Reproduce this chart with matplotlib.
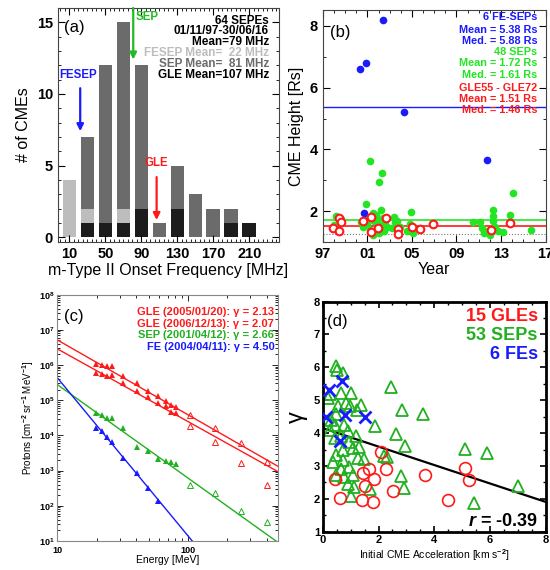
import numpy as np
import matplotlib
matplotlib.use('Agg')
import matplotlib.pyplot as plt
from matplotlib.ticker import MultipleLocator, LogLocator, NullFormatter

plt.rcParams['font.family'] = ['Liberation Sans', 'DejaVu Sans']
plt.rcParams['font.weight'] = 'bold'
plt.rcParams['mathtext.fontset'] = 'custom'
plt.rcParams['mathtext.rm'] = 'Liberation Sans:bold'
plt.rcParams['mathtext.bf'] = 'Liberation Sans:bold'
plt.rcParams['mathtext.it'] = 'Liberation Sans:bold:italic'
plt.rcParams['xtick.direction'] = 'in'
plt.rcParams['ytick.direction'] = 'in'
plt.rcParams['xtick.top'] = True
plt.rcParams['ytick.right'] = True

RED = '#ff1a1a'
BLUE = '#1a1aff'
GREEN_B = '#22e622'
GREEN = '#22b022'

# (a) histogram of m-type II onset frequency
freq_bins = np.array([10, 30, 50, 70, 90, 110, 130, 150, 170, 190, 210, 230])
gle_counts = np.array([0, 1, 1, 1, 2, 0, 2, 0, 0, 1, 1, 0])
fesep_counts = np.array([4, 1, 0, 1, 0, 0, 0, 0, 0, 0, 0, 0])
sep_counts = np.array([0, 5, 11, 13, 10, 1, 3, 3, 2, 1, 0, 0])
mean_fesep, mean_sep, mean_gle = 22, 81, 107

# (b) CME height vs year
fe_year = [2000.3, 2000.9, 2002.4, 2004.3, 2011.7, 2000.7]
fe_height = [6.6, 6.8, 8.2, 5.2, 3.65, 1.95]
sep_year = [2001.2, 2002.3, 2002.0, 2014.1, 2000.9, 2004.9,
            1998.2, 1998.0, 1998.6,
            2000.6, 2000.8, 2001.0, 2001.2, 2001.5, 2001.6, 2001.8, 2001.5,
            2002.2, 2002.1, 2002.4, 2002.6, 2002.0, 2002.8,
            2003.4, 2003.5, 2003.2, 2003.9, 2003.7,
            2004.6, 2004.8, 2005.1,
            2010.5, 2011.1, 2011.3, 2011.5, 2011.8, 2012.3, 2012.3, 2012.3,
            2012.5, 2013.2, 2013.8, 2012.0, 2015.7,
            2000.4, 2001.9, 2002.5, 2012.7]
sep_height = [3.62, 3.25, 2.95, 2.59, 2.23, 1.98,
              1.85, 1.55, 1.75,
              1.50, 1.75, 1.60, 1.40, 1.23, 1.70, 1.87, 1.95,
              2.03, 1.55, 1.80, 1.60, 1.30, 1.50,
              1.82, 1.65, 1.45, 1.50, 1.70,
              1.37, 1.60, 1.30,
              1.65, 1.65, 1.45, 1.30, 1.35, 2.03, 1.85, 1.70,
              1.50, 1.33, 1.87, 1.25, 1.39,
              1.65, 1.75, 1.35, 1.35]
gle_year = [1997.9, 1998.45, 1998.66, 1998.45, 2000.58, 2001.33, 2001.33, 2001.92,
            2002.66, 2003.78, 2003.78, 2004.97, 2005.68, 2006.87, 2012.14, 2013.77]
gle_height = [1.47, 1.80, 1.65, 1.36, 1.69, 1.82, 1.33, 1.47,
              1.80, 1.44, 1.28, 1.49, 1.42, 1.58, 1.39, 1.62]
mean_h_fe, mean_h_sep, mean_h_gle = 5.38, 1.72, 1.51
h_limit = 1.26

# (c) proton spectra
e_fit = [19.7, 21.9, 24.2, 26.4, 31.9, 41.1, 49.6, 58.9, 67.5, 74.5, 80.4]
e_open = [104, 162, 254, 404]
gle1_fit = [1.07e6, 1.02e6, 9.1e5, 9.5e5, 4.9e5, 3.0e5, 1.8e5, 1.3e5, 9.8e4, 7.4e4, 6.6e4]
gle1_open = [3.8e4, 1.6e4, 6.2e3, 1.8e3]
gle2_fit = [5.9e5, 5.5e5, 4.9e5, 5.1e5, 3.0e5, 1.8e5, 1.26e5, 8.1e4, 6.9e4, 4.5e4, 4.3e4]
gle2_open = [1.8e4, 6.6e3, 1.6e3, 3.9e2]
sepc_fit = [4.3e4, 3.8e4, 3.1e4, 3.1e4, 1.6e4, 4.6e3, 3.5e3, 2.2e3, 1.9e3, 1.7e3, 1.55e3]
sepc_open = [3.9e2, 2.3e2, 72, 35]
fec_fit = [1.6e4, 1.3e4, 9.1e3, 6.6e3, 2.3e3, 8.3e2, 3.1e2, 1.4e2]
fit_norm10 = [5.2e6, 2.9e6, 2.8e5, 4.4e5]   # flux at 10 MeV
fit_gamma = [2.13, 2.07, 2.66, 4.50]

# (d) gamma vs acceleration
gle_acc = [2.08, 2.26, 1.67, 1.43, 1.85, 1.51, 0.45, 0.61, 1.40, 1.79, 2.53, 3.67, 4.50, 5.12, 5.24]
gle_gam = [3.44, 2.91, 2.92, 2.78, 2.60, 2.40, 2.60, 2.02, 1.96, 1.90, 2.23, 2.74, 1.97, 2.95, 2.56]
fe_acc = [0.21, 0.69, 0.12, 0.81, 1.52, 0.63]
fe_gam = [5.31, 5.59, 4.49, 4.54, 4.49, 3.77]
sep_acc = [0.48, 0.50, 0.71, 0.24, 0.18, 0.65, 1.01, 0.98, 1.37, 1.21,
           0.83, 0.54, 0.48, 0.30, 0.42, 0.24, 0.77, 0.89, 0.65, 0.42,
           0.95, 1.19, 1.07, 0.71, 0.48, 0.36, 0.71, 1.25, 1.49, 1.31,
           0.95, 0.65, 0.48, 0.77, 1.07, 0.89, 1.13, 1.01, 1.69, 2.20,
           1.88, 2.44, 2.86, 3.60, 2.62, 2.95, 5.12, 5.89, 2.80, 2.92,
           5.42, 7.00, 2.32]
sep_gam = [6.05, 5.92, 5.82, 5.18, 5.08, 5.23, 5.23, 4.82, 4.85, 4.69,
           4.92, 4.82, 4.58, 4.41, 4.26, 4.10, 4.26, 4.05, 3.90, 3.85,
           3.74, 3.90, 3.54, 3.49, 3.33, 3.13, 3.18, 3.23, 3.21, 3.59,
           2.97, 2.92, 2.72, 2.67, 2.74, 2.46, 2.36, 2.10, 2.31, 3.31,
           4.23, 5.41, 4.71, 4.59, 3.98, 3.60, 3.51, 3.41, 2.69, 2.33,
           1.87, 2.38, 3.28]
fit_icpt, fit_slope = 4.15, -0.28
r_value = -0.39

fig = plt.figure(figsize=(5.5, 5.7), dpi=100)

# ---------------- (a)
ax = fig.add_axes([0.105, 0.575, 0.402, 0.411])
ax.bar(freq_bins, gle_counts, width=15, color='#1c1c1c')
ax.bar(freq_bins, fesep_counts, width=15, bottom=gle_counts, color='#bdbdbd')
ax.bar(freq_bins, sep_counts, width=15, bottom=gle_counts + fesep_counts, color='#6b6b6b')
ax.set_xlim(-3, 243)
ax.set_ylim(-0.35, 16)
ax.set_xticks([10, 50, 90, 130, 170, 210])
ax.xaxis.set_minor_locator(MultipleLocator(5))
ax.set_yticks([0, 5, 10, 15])
ax.yaxis.set_minor_locator(MultipleLocator(1))
ax.tick_params(labelsize=10.5, length=5, width=0.8)
ax.tick_params(which='minor', length=2.5)
ax.set_xlabel('m-Type II Onset Frequency [MHz]', fontsize=11.5, labelpad=1)
ax.set_ylabel('# of CMEs', fontsize=11.5, labelpad=4)
ax.text(0.03, 0.915, '(a)', transform=ax.transAxes, fontsize=12, fontweight='normal', va='center')
lines_a = [('64 SEPEs', 'k'), ('01/11/97-30/06/16', 'k'), ('Mean=79 MHz', 'k'),
           (f'FESEP Mean=  {mean_fesep} MHz', '#bdbdbd'), (f'SEP Mean=  {mean_sep} MHz', '#6b6b6b'),
           (f'GLE Mean={mean_gle} MHz', 'k')]
for i, (s, c) in enumerate(lines_a):
    ax.text(0.955, 0.946 - i * 0.046, s, transform=ax.transAxes, ha='right', va='center',
            fontsize=8.5, color=c)
arr = dict(arrowstyle='-|>', lw=1.6, mutation_scale=10, shrinkA=0, shrinkB=0)
ax.annotate('', xy=(mean_fesep, 7.4), xytext=(mean_fesep, 10.4), arrowprops=dict(arr, color=BLUE))
ax.text(mean_fesep - 2, 11.35, 'FESEP', color=BLUE, ha='center', va='center', fontsize=8.3)
ax.annotate('', xy=(mean_sep, 12.4), xytext=(mean_sep, 16), arrowprops=dict(arr, color='#22bb22'))
ax.text(mean_sep + 3, 15.4, 'SEP', color='#22bb22', ha='left', va='center', fontsize=8.3)
ax.annotate('', xy=(mean_gle, 1.2), xytext=(mean_gle, 4.2), arrowprops=dict(arr, color=RED))
ax.text(mean_gle, 5.2, 'GLE', color=RED, ha='center', va='center', fontsize=8.3)
for s in ax.spines.values():
    s.set_color('#444444')

# ---------------- (b)
ax = fig.add_axes([0.587, 0.575, 0.405, 0.407])
ax.axhline(mean_h_fe, color=BLUE, lw=1.0, zorder=1)
ax.axhline(mean_h_sep, color=GREEN_B, lw=1.2, zorder=1)
ax.axhline(mean_h_gle, color=RED, lw=1.2, zorder=1)
ax.axhline(h_limit, color='#777777', lw=0.8, ls=':', zorder=1)
ax.plot(sep_year, sep_height, 'o', color=GREEN_B, ms=5.5, mew=0, zorder=2)
ax.plot(fe_year, fe_height, 'o', color=BLUE, ms=5.5, mew=0, zorder=3)
ax.plot(gle_year, gle_height, 'o', mfc='white', mec=RED, ms=5.5, mew=1.5, zorder=4)
ax.set_xlim(1997, 2017)
ax.set_ylim(1, 8.5)
ax.set_xticks([1997, 2001, 2005, 2009, 2013, 2017])
ax.set_xticklabels(['97', '01', '05', '09', '13', '17'])
ax.xaxis.set_minor_locator(MultipleLocator(1))
ax.set_yticks([2, 4, 6, 8])
ax.yaxis.set_minor_locator(MultipleLocator(1))
ax.tick_params(labelsize=10.5, length=5, width=0.8)
ax.tick_params(which='minor', length=2.5)
ax.set_xlabel('Year', fontsize=11.5, labelpad=1)
ax.set_ylabel('CME Height [Rs]', fontsize=11.5, labelpad=4)
ax.text(0.03, 0.906, '(b)', transform=ax.transAxes, fontsize=12, fontweight='normal', va='center')
lines_b = [('6 FE-SEPs', BLUE), (f'Mean = {mean_h_fe:.2f} Rs', BLUE), ('Med. = 5.88 Rs', BLUE),
           ('48 SEPs', GREEN_B), (f'Mean = {mean_h_sep:.2f} Rs', GREEN_B), ('Med. = 1.61 Rs', GREEN_B),
           ('GLE55 - GLE72', RED), (f'Mean = {mean_h_gle:.2f} Rs', RED), ('Med. = 1.46 Rs', RED)]
ys_b = [0.969, 0.917, 0.869, 0.819, 0.771, 0.723, 0.667, 0.617, 0.569]
for (s, c), yy in zip(lines_b, ys_b):
    ax.text(0.964, yy, s, transform=ax.transAxes, ha='right', va='center', fontsize=7.8, color=c)
for s in ax.spines.values():
    s.set_color('#444444')

# ---------------- (c)
ax = fig.add_axes([0.104, 0.051, 0.402, 0.432])
e_line = np.array([10, 500])
cols_c = [RED, RED, GREEN, BLUE]
for a10, g, c in zip(fit_norm10, fit_gamma, cols_c):
    ax.plot(e_line, a10 * (e_line / 10.0) ** (-g), color=c, lw=1.0)
ms_c = 4.2
ax.plot(e_fit, gle1_fit, '^', color=RED, ms=ms_c, mew=0)
ax.plot(e_fit, gle2_fit, '^', color=RED, ms=ms_c, mew=0)
ax.plot(e_fit, sepc_fit, '^', color=GREEN, ms=ms_c, mew=0)
ax.plot(e_fit[:len(fec_fit)], fec_fit, '^', color=BLUE, ms=ms_c, mew=0)
ax.plot(e_open, gle1_open, '^', mfc='none', mec=RED, ms=ms_c + 0.5, mew=0.7)
ax.plot(e_open, gle2_open, '^', mfc='none', mec=RED, ms=ms_c + 0.5, mew=0.7)
ax.plot(e_open, sepc_open, '^', mfc='none', mec=GREEN, ms=ms_c + 0.5, mew=0.7)
ax.set_xscale('log')
ax.set_yscale('log')
ax.set_xlim(10, 490)
ax.set_ylim(10, 1e8)
ax.set_xticks([10, 100])
ax.set_xticklabels(['10', '100'])
ax.xaxis.set_minor_locator(LogLocator(base=10, subs=np.arange(2, 10)))
ax.xaxis.set_minor_formatter(NullFormatter())
ax.yaxis.set_major_locator(LogLocator(base=10, numticks=10))
ax.yaxis.set_minor_locator(LogLocator(base=10, subs=np.arange(2, 10), numticks=10))
ax.yaxis.set_minor_formatter(NullFormatter())
ax.tick_params(labelsize=6.5, length=4, width=0.6, pad=2)
ax.tick_params(axis='x', pad=4)
ax.tick_params(which='minor', length=2)
ax.set_xlabel('Energy [MeV]', fontsize=7.5, labelpad=0)
ax.set_ylabel(r'Protons [cm$^{-2}$ sr$^{-1}$ MeV$^{-1}$]', fontsize=7, labelpad=2)
ax.text(0.03, 0.91, '(c)', transform=ax.transAxes, fontsize=12, fontweight='normal', va='center')
lines_c = [(f'GLE (2005/01/20): γ = {fit_gamma[0]:.2f}', RED),
           (f'GLE (2006/12/13): γ = {fit_gamma[1]:.2f}', RED),
           (f'SEP (2001/04/12): γ = {fit_gamma[2]:.2f}', GREEN),
           (f'FE (2004/04/11): γ = {fit_gamma[3]:.2f}', BLUE)]
for i, (s, c) in enumerate(lines_c):
    ax.text(0.982, 0.93 - i * 0.047, s, transform=ax.transAxes, ha='right', va='center',
            fontsize=8.0, color=c)
for s in ax.spines.values():
    s.set_color('#888888')

# ---------------- (d)
ax = fig.add_axes([0.587, 0.067, 0.405, 0.404])
xl = np.array([0, 8])
ax.plot(xl, fit_icpt + fit_slope * xl, color='k', lw=1.6, zorder=1)
ax.plot(sep_acc, sep_gam, '^', mfc='none', mec=GREEN, ms=8, mew=1.3, zorder=2)
ax.plot(gle_acc, gle_gam, 'o', mfc='none', mec=RED, ms=8.5, mew=1.2, zorder=3)
ax.plot(fe_acc, fe_gam, 'x', color=BLUE, ms=9, mew=2, zorder=4)
ax.set_xlim(0, 8)
ax.set_ylim(1, 8)
ax.set_xticks([0, 2, 4, 6, 8])
ax.xaxis.set_minor_locator(MultipleLocator(0.5))
ax.set_yticks(range(1, 9))
ax.yaxis.set_minor_locator(MultipleLocator(0.5))
ax.tick_params(labelsize=8, length=4, width=1.2, pad=2)
ax.tick_params(which='minor', length=2, width=1)
ax.set_xlabel(r'Initial CME Acceleration [km s$^{-2}$]', fontsize=7.5, labelpad=2)
ax.set_ylabel('γ', fontsize=17, fontweight='normal', labelpad=4)
ax.text(0.02, 0.913, '(d)', transform=ax.transAxes, fontsize=12, fontweight='normal', va='center')
ax.text(0.965, 0.935, '15 GLEs', transform=ax.transAxes, ha='right', va='center', fontsize=13, color=RED)
ax.text(0.965, 0.851, '53 SEPs', transform=ax.transAxes, ha='right', va='center', fontsize=13, color=GREEN)
ax.text(0.965, 0.768, '6 FEs', transform=ax.transAxes, ha='right', va='center', fontsize=13, color=BLUE)
ax.text(0.965, 0.045, r'$\it{r}$ = ' + f'{r_value:.2f}', transform=ax.transAxes, ha='right', va='center',
        fontsize=13, color='k')
for s in ax.spines.values():
    s.set_linewidth(2)

fig.savefig('out.png', dpi=100)
